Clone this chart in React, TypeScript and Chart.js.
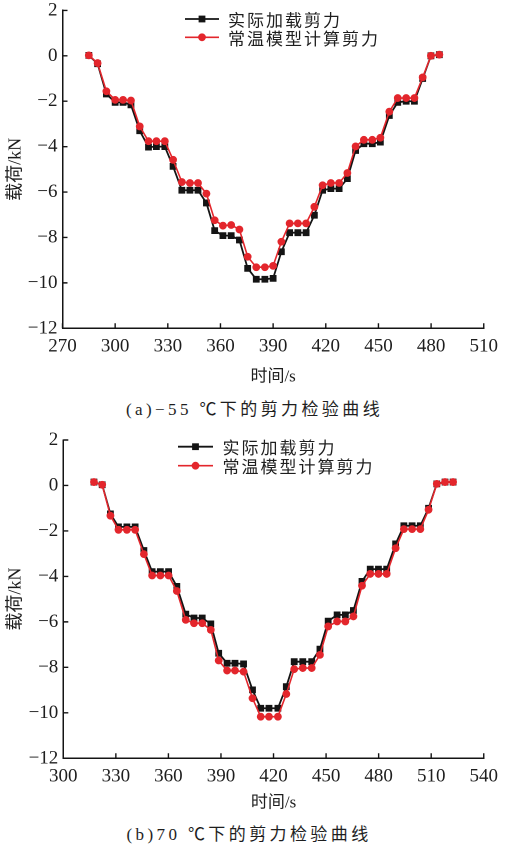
import React, { useEffect, useRef } from "react";
import { Chart, registerables } from "chart.js";

Chart.register(...registerables);

// ---------- data (a) −55 ℃ ----------
const timeA = [285, 290, 295, 300, 304.5, 309, 314, 319, 323.5, 328.3, 333, 338, 342.6, 347.2, 352, 356.7, 361.4, 366.1, 370.8, 375.5, 380.4, 385.3, 390, 394.7, 399.4, 404.1, 408.8, 413.5, 418.2, 422.9, 427.6, 432.3, 437, 441.7, 446.5, 451.1, 456.2, 461, 465.8, 470.5, 475.2, 479.9, 484.7];
const actualA = [0.02, -0.35, -1.68, -2.05, -2.05, -2.16, -3.3, -4.02, -4.0, -4.0, -4.87, -5.92, -5.92, -5.92, -6.48, -7.7, -7.92, -7.92, -8.11, -9.36, -9.84, -9.84, -9.8, -8.63, -7.79, -7.79, -7.79, -7.02, -5.92, -5.85, -5.85, -5.41, -4.17, -3.87, -3.87, -3.8, -2.63, -2.05, -2.0, -2.0, -1.0, 0.0, 0.05];
const modelA = [0.02, -0.32, -1.56, -1.94, -1.94, -1.97, -3.11, -3.76, -3.76, -3.76, -4.58, -5.56, -5.6, -5.6, -6.07, -7.24, -7.48, -7.45, -7.65, -8.85, -9.31, -9.31, -9.25, -8.19, -7.38, -7.38, -7.38, -6.65, -5.7, -5.6, -5.6, -5.16, -3.99, -3.7, -3.7, -3.61, -2.46, -1.86, -1.86, -1.86, -0.95, 0.0, 0.05];

// ---------- data (b) 70 ℃ ----------
const timeB = [317.5, 322.2, 326.9, 331.5, 336.3, 341, 346, 350.7, 355.4, 360.1, 364.8, 369.9, 374.6, 379.3, 384.2, 388.7, 393.5, 398, 402.9, 408, 412.7, 417.4, 422.5, 427.3, 431.8, 436.7, 441.8, 446.5, 451.2, 456.3, 461, 465.6, 470.5, 475.2, 479.9, 484.6, 489.7, 494.4, 499.1, 503.8, 508.5, 513.2, 517.9, 522.5];
const actualB = [0.15, 0.03, -1.25, -1.82, -1.82, -1.82, -2.86, -3.79, -3.79, -3.79, -4.44, -5.66, -5.83, -5.83, -6.09, -7.38, -7.82, -7.82, -7.85, -8.99, -9.8, -9.8, -9.8, -8.85, -7.75, -7.75, -7.75, -7.2, -5.97, -5.69, -5.69, -5.5, -4.22, -3.68, -3.68, -3.68, -2.57, -1.77, -1.77, -1.77, -1.0, 0.07, 0.15, 0.15];
const modelB = [0.15, 0.03, -1.33, -1.95, -1.95, -1.95, -3.02, -3.96, -3.96, -3.96, -4.64, -5.91, -6.06, -6.06, -6.35, -7.7, -8.14, -8.14, -8.19, -9.36, -10.17, -10.17, -10.17, -9.17, -8.08, -8.03, -8.03, -7.45, -6.2, -5.98, -5.98, -5.76, -4.41, -3.89, -3.89, -3.89, -2.76, -1.92, -1.92, -1.92, -1.07, 0.07, 0.15, 0.15];

// ---------- labels / ticks ----------
const seriesNames = ["实际加载剪力", "常温模型计算剪力"];
const xTicksA = [270, 300, 330, 360, 390, 420, 450, 480, 510];
const xTicksB = [300, 330, 360, 390, 420, 450, 480, 510, 540];
const yTicks = [2, 0, -2, -4, -6, -8, -10, -12];
const xTitle = "时间/s";
const yTitle = "载荷/kN";
const captionA = "(a)−55 ℃下的剪力检验曲线";
const captionB = "(b)70 ℃下的剪力检验曲线";

const SERIF = "'Liberation Serif', 'Noto Sans CJK SC', serif";
const CJK = "'Noto Sans CJK SC', 'Liberation Serif', sans-serif";
const BLACK = "#141414";
const RED = "#e3262c";

type Layout = {
  top: number;
  height: number;
  plotLeft: number;
  plotRight: number;
  plotTop: number;
  plotBottom: number;
  titlePad: number;
  legendX: number;
  legendLen: number;
  legendTextX: number;
  legendY: number;
  legendGap: number;
};

const decorPlugin = {
  id: "decor",
  afterDraw(chart: any, _args: any, opts: any) {
    const ctx = chart.ctx as CanvasRenderingContext2D;
    const xs = chart.scales.x;
    const ys = chart.scales.y;
    const { left, bottom } = chart.chartArea;
    ctx.save();
    ctx.strokeStyle = BLACK;
    ctx.lineWidth = 1.4;
    ctx.beginPath();
    xs.ticks.forEach((t: any) => {
      const px = xs.getPixelForValue(t.value);
      ctx.moveTo(px, bottom);
      ctx.lineTo(px, bottom - 5);
    });
    ys.ticks.forEach((t: any) => {
      const py = ys.getPixelForValue(t.value);
      ctx.moveTo(left, py);
      ctx.lineTo(left + 5, py);
    });
    ctx.stroke();

    // legend
    chart.data.datasets.forEach((ds: any, i: number) => {
      const y = opts.y + i * opts.gap;
      ctx.strokeStyle = ds.borderColor;
      ctx.lineWidth = ds.borderWidth;
      ctx.beginPath();
      ctx.moveTo(opts.x, y);
      ctx.lineTo(opts.x + opts.len, y);
      ctx.stroke();
      const cx = opts.x + opts.len / 2;
      ctx.fillStyle = ds.pointBackgroundColor;
      if (ds.pointStyle === "rect") {
        const s = ds.pointRadius * Math.SQRT1_2;
        ctx.fillRect(cx - s, y - s, 2 * s, 2 * s);
      } else {
        ctx.beginPath();
        ctx.arc(cx, y, ds.pointRadius, 0, Math.PI * 2);
        ctx.fill();
      }
      ctx.fillStyle = "#1e1e1e";
      ctx.font = `17px ${CJK}`;
      (ctx as any).letterSpacing = "2px";
      ctx.textBaseline = "middle";
      ctx.textAlign = "left";
      ctx.fillText(ds.label, opts.textX, y + 1);
      (ctx as any).letterSpacing = "0px";
    });
    ctx.restore();
  },
};

function fmt(v: number) {
  return v < 0 ? "−" + Math.abs(v) : String(v);
}

function ShearChart(props: {
  times: number[];
  actual: number[];
  model: number[];
  xTicks: number[];
  layout: Layout;
}) {
  const ref = useRef<HTMLCanvasElement | null>(null);
  const { times, actual, model, xTicks, layout: L } = props;

  useEffect(() => {
    if (!ref.current) return;
    const chart = new Chart(ref.current, {
      type: "line",
      data: {
        datasets: [
          {
            label: seriesNames[0],
            data: times.map((t, i) => ({ x: t, y: actual[i] })),
            borderColor: BLACK,
            backgroundColor: BLACK,
            borderWidth: 1.8,
            pointStyle: "rect",
            pointRadius: 4.8,
            pointBackgroundColor: BLACK,
            pointBorderColor: BLACK,
            pointBorderWidth: 0,
            order: 2,
          } as any,
          {
            label: seriesNames[1],
            data: times.map((t, i) => ({ x: t, y: model[i] })),
            borderColor: RED,
            backgroundColor: RED,
            borderWidth: 1.6,
            pointStyle: "circle",
            pointRadius: 3.9,
            pointBackgroundColor: RED,
            pointBorderColor: RED,
            pointBorderWidth: 0,
            order: 1,
          } as any,
        ],
      },
      options: {
        animation: false,
        responsive: false,
        maintainAspectRatio: false,
        devicePixelRatio: 2,
        layout: {
          padding: {
            top: L.plotTop,
            left: 5,
            right: 505 - L.plotRight,
            bottom: 0,
          },
        },
        plugins: {
          legend: { display: false },
          tooltip: { enabled: false },
          decor: {
            x: L.legendX,
            len: L.legendLen,
            textX: L.legendTextX,
            y: L.legendY,
            gap: L.legendGap,
          },
        } as any,
        scales: {
          x: {
            type: "linear",
            min: xTicks[0],
            max: xTicks[xTicks.length - 1],
            afterBuildTicks: (s: any) => {
              s.ticks = xTicks.map((v) => ({ value: v }));
            },
            afterFit: (s: any) => {
              s.height = L.height - L.plotBottom;
            },
            grid: { display: false, drawTicks: false },
            border: { display: true, color: BLACK, width: 1.5 },
            ticks: {
              color: "#1e1e1e",
              padding: 7,
              maxRotation: 0,
              autoSkip: false,
              font: { family: SERIF, size: 19 },
              callback: (v: any) => fmt(Number(v)),
            },
            title: {
              display: true,
              text: xTitle,
              color: "#1e1e1e",
              font: { family: SERIF, size: 17 },
              padding: { top: 0, bottom: L.titlePad },
            },
          },
          y: {
            type: "linear",
            min: yTicks[yTicks.length - 1],
            max: yTicks[0],
            afterBuildTicks: (s: any) => {
              s.ticks = yTicks.map((v) => ({ value: v }));
            },
            afterFit: (s: any) => {
              s.width = L.plotLeft - 5;
            },
            grid: { display: false, drawTicks: false },
            border: { display: true, color: BLACK, width: 1.5 },
            ticks: {
              color: "#1e1e1e",
              padding: 5,
              autoSkip: false,
              font: { family: SERIF, size: 19 },
              callback: (v: any) => fmt(Number(v)),
            },
            title: {
              display: true,
              text: yTitle,
              color: "#1e1e1e",
              font: { family: SERIF, size: 18 },
              padding: { top: 0, bottom: 0 },
            },
          },
        },
      } as any,
      plugins: [decorPlugin as any],
    });
    return () => chart.destroy();
  }, [times, actual, model, xTicks, L]);

  return (
    <canvas
      ref={ref}
      width={505}
      height={L.height}
      style={{
        position: "absolute",
        left: 0,
        top: L.top,
        width: 505,
        height: L.height,
      }}
    />
  );
}

const layoutA: Layout = {
  top: -6,
  height: 398,
  plotLeft: 62.5,
  plotRight: 487.7,
  plotTop: 15.4,
  plotBottom: 334.3,
  titlePad: 4.8,
  legendX: 185,
  legendLen: 34,
  legendTextX: 228,
  legendY: 25,
  legendGap: 18.3,
};

const layoutB: Layout = {
  top: 420,
  height: 394,
  plotLeft: 63.3,
  plotRight: 489.3,
  plotTop: 20,
  plotBottom: 338.3,
  titlePad: 0.8,
  legendX: 178,
  legendLen: 35,
  legendTextX: 222.5,
  legendY: 26.7,
  legendGap: 19,
};

const captionStyle = (cx: number, cy: number): React.CSSProperties => ({
  position: "absolute",
  left: cx,
  top: cy,
  transform: "translate(-50%, -50%)",
  whiteSpace: "nowrap",
  fontFamily: SERIF,
  fontSize: 17,
  letterSpacing: "3.4px",
  color: "#1e1e1e",
  lineHeight: "20px",
});

export default function App() {
  return (
    <div
      style={{
        position: "absolute",
        left: 0,
        top: 0,
        width: 505,
        height: 853,
        background: "#fff",
        overflow: "hidden",
      }}
    >
      <ShearChart times={timeA} actual={actualA} model={modelA} xTicks={xTicksA} layout={layoutA} />
      <div style={captionStyle(254.5, 410)}>{captionA}</div>
      <ShearChart times={timeB} actual={actualB} model={modelB} xTicks={xTicksB} layout={layoutB} />
      <div style={captionStyle(249, 835)}>{captionB}</div>
    </div>
  );
}
